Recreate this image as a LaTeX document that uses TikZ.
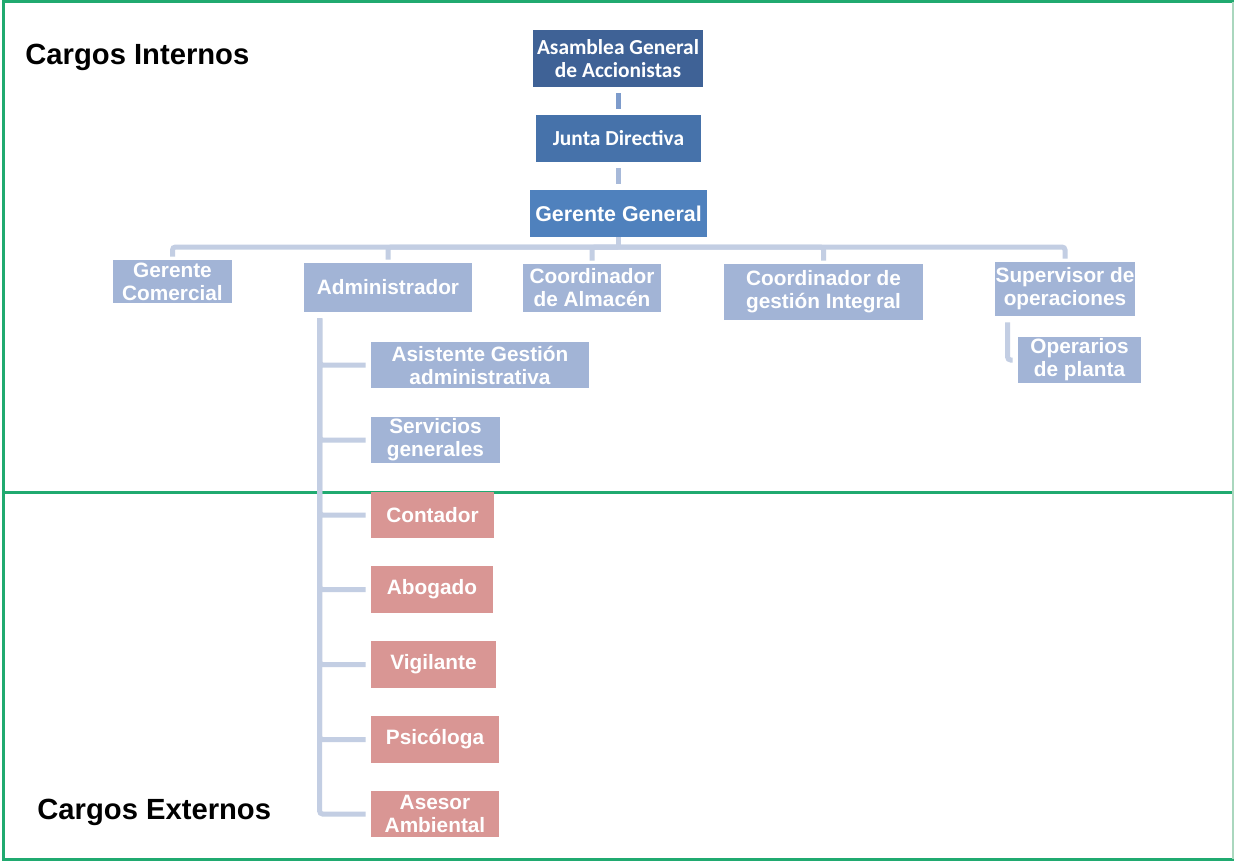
\documentclass[tikz,border=0pt]{standalone}
\usepackage{fontspec}
\setmainfont{Liberation Sans}
\newfontfamily\calibri{Carlito}
\usetikzlibrary{positioning,calc}

\definecolor{azulA}{RGB}{63,98,150}
\definecolor{azulB}{RGB}{70,114,170}
\definecolor{azulC}{RGB}{79,129,189}
\definecolor{azulclaro}{RGB}{162,180,214}
\definecolor{rojoclaro}{RGB}{217,150,148}
\definecolor{barraA}{RGB}{125,155,203}
\definecolor{barraB}{RGB}{167,185,217}
\definecolor{lineaclara}{RGB}{195,206,227}
\definecolor{verde}{RGB}{32,170,112}
\definecolor{verdeclaro}{RGB}{170,215,190}

\begin{document}
\begin{tikzpicture}[
  x=0.5pt,y=-0.5pt,
  every node/.style={align=center,inner sep=0pt},
  tam/.style 2 args={minimum width=#1*0.5pt,minimum height=#2*0.5pt},
  cargo/.style={rectangle,fill=azulclaro,text=white,font=\bfseries\fontsize{10.4}{11.5}\selectfont},
  mando/.style={cargo,font=\calibri\bfseries\fontsize{10.7}{11.3}\selectfont},
  externo/.style={cargo,fill=rojoclaro},
  titulo/.style={font=\bfseries\fontsize{14.6}{16}\selectfont,anchor=west},
  enlace/.style={draw=lineaclara,line width=2.5pt,rounded corners=1.5pt},
  barra/.style={line width=2.5pt,shorten <=3pt,shorten >=3pt},
  marco/.style={draw=verde,line width=1.5pt}]

  \fill[white] (0,0) rectangle (1234,861);
  \useasboundingbox (0,0) rectangle (1234,861);

  % Marco de cargos internos / externos
  \draw[marco] (1234,2) -- (3,2) -- (3,859) -- (1234,859);
  \draw[marco] (3,492) -- (1234,492);
  \draw[marco,draw=verdeclaro,line width=1pt] (1233,2) -- (1233,859);

  \node[titulo] (internos) at (25,57) {Cargos Internos};
  \node[titulo] (externos) at (37,812) {Cargos Externos};

  % Direccion
  \node[mando,fill=azulA,tam={170}{57}] (asamblea) at (618,58.5) {Asamblea General\\de Accionistas};
  \node[mando,fill=azulB,tam={165}{47}] (junta) at (618.5,138.5) {Junta Directiva};
  \node[cargo,fill=azulC,tam={177}{47},font=\bfseries\fontsize{10.7}{12}\selectfont] (gerente) at (618.5,213.5) {Gerente General};

  % Segundo nivel
  \node[cargo,tam={119}{43}] (comercial) at (172.5,281.5) {Gerente\\Comercial};
  \node[cargo,tam={168}{49}] (administrador) at (388,287.5) {Administrador};
  \node[cargo,tam={138}{48}] (almacen) at (592,288) {Coordinador\\de Almacén};
  \node[cargo,tam={199}{56}] (gestion) at (823.5,292) {Coordinador de\\gestión Integral};
  \node[cargo,tam={140}{54}] (supervisor) at (1065,289) {Supervisor de\\operaciones};
  \node[cargo,tam={123}{46}] (operarios) at (1079.5,360) {Operarios\\de planta};

  % Dependientes del administrador
  \node[cargo,tam={218}{46}] (asistente) at (480,365) {Asistente Gestión\\administrativa};
  \node[cargo,tam={129}{46}] (servicios) at (435.5,440) {Servicios\\generales};
  \node[externo,tam={123}{46}] (contador) at (432.5,515) {Contador};
  \node[externo,tam={122}{47}] (abogado) at (432,589.5) {Abogado};
  \node[externo,tam={125}{47}] (vigilante) at (433.5,664.5) {Vigilante};
  \node[externo,tam={128}{47}] (psicologa) at (435,739.5) {Psicóloga};
  \node[externo,tam={128}{46}] (asesor) at (435,814) {Asesor\\Ambiental};

  % Conectores
  \draw[barra,draw=barraA] (asamblea.south) -- (asamblea.south |- junta.north);
  \draw[barra,draw=barraB] (junta.south) -- (junta.south |- gerente.north);

  \coordinate (bus) at (618.5,247);
  \draw[enlace] (gerente.south) -- (bus);
  \foreach \n in {comercial,administrador,almacen,gestion,supervisor}
    \draw[enlace,shorten >=1.5pt] (bus) -| (\n.north);

  \foreach \n in {asistente,servicios,contador,abogado,vigilante,psicologa,asesor}
    \draw[enlace,shorten <=3pt,shorten >=2.5pt] ($(administrador.south west)+(16,0)$) |- (\n.west);

  \draw[enlace,shorten <=3pt,shorten >=2.5pt] ($(supervisor.south west)+(13,0)$) |- (operarios.west);

\end{tikzpicture}
\end{document}
